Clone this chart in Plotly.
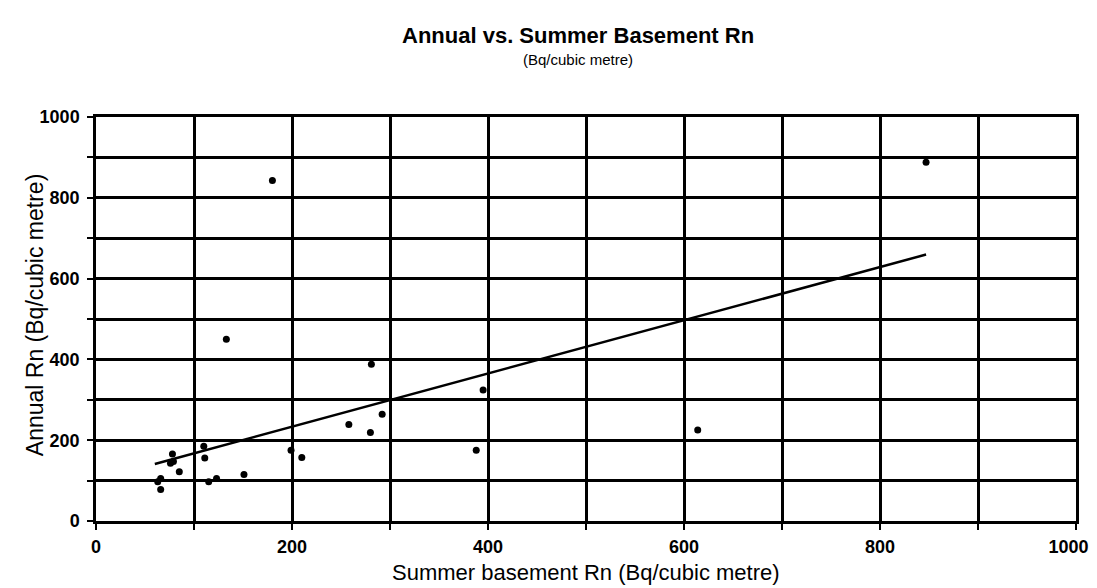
import numpy as np
import plotly.graph_objects as go

# Summer basement Rn (x) vs Annual Rn (y), Bq/cubic metre
summer = [63, 66, 66, 76, 79, 78, 85, 110, 111, 115, 123, 133, 151, 180,
          199, 210, 258, 281, 280, 292, 388, 395, 614, 847]
annual = [97, 105, 78, 143, 147, 166, 122, 185, 156, 97, 105, 450, 115, 843,
          175, 157, 239, 388, 219, 264, 175, 324, 225, 888]

x_ticks = [0, 200, 400, 600, 800, 1000]
y_ticks = [0, 200, 400, 600, 800, 1000]

title_text = "Annual vs. Summer Basement Rn"
subtitle_text = "(Bq/cubic metre)"
x_title = "Summer basement Rn (Bq/cubic metre)"
y_title = "Annual Rn (Bq/cubic metre)"

# Linear trendline (least squares) through the data
slope, intercept = np.polyfit(summer, annual, 1)
trend_x = [min(summer) - 3, max(summer)]
trend_y = [intercept + slope * v for v in trend_x]

fig = go.Figure()
fig.add_trace(go.Scatter(x=trend_x, y=trend_y, mode="lines",
                         line=dict(color="black", width=2.5),
                         showlegend=False, hoverinfo="skip"))
fig.add_trace(go.Scatter(x=summer, y=annual, mode="markers",
                         marker=dict(color="black", size=7, symbol="circle"),
                         showlegend=False))

tickfont = dict(family="Liberation Sans", size=18, color="black", weight="bold")
axis_common = dict(
    range=[0, 1000], tickmode="array",
    showgrid=True, gridcolor="black", gridwidth=2.5,
    showline=True, linecolor="black", linewidth=2.5, mirror=True,
    ticks="outside", ticklen=6, tickwidth=2, tickcolor="black",
    zeroline=False, tickfont=tickfont, automargin=False,
    ticklabeloverflow="allow",
    minor=dict(dtick=100, tick0=0, showgrid=True, gridcolor="black", gridwidth=2.5,
               ticks="outside", ticklen=6, tickwidth=2, tickcolor="black"),
)

# last x label is nudged left (as the original does) so it stays inside the page
x_ticktext = [str(v) for v in x_ticks]
x_ticktext[-1] = x_ticktext[-1] + "&nbsp;" * 3

fig.update_xaxes(**axis_common, tickvals=x_ticks,
                 ticktext=x_ticktext, ticklabelstandoff=2)
fig.update_yaxes(**axis_common, tickvals=y_ticks,
                 ticktext=[str(v) for v in y_ticks], ticklabelstandoff=4)

annos = [
    dict(text="<b>" + title_text + "</b>", x=0.492, y=1.2015,
         font=dict(family="Liberation Sans", size=22, color="black")),
    dict(text=subtitle_text, x=0.492, y=1.143,
         font=dict(family="Liberation Sans", size=15, color="black")),
    dict(text=x_title, x=0.5, y=-0.128,
         font=dict(family="Liberation Sans", size=22, color="black")),
    dict(text=y_title, x=-0.062, y=0.51, textangle=-90,
         font=dict(family="Liberation Sans", size=23, color="black")),
]
for a in annos:
    fig.add_annotation(xref="paper", yref="paper", showarrow=False,
                       xanchor="center", yanchor="middle", **a)

# The page body has an 8px margin, so the figure is sized/offset to compensate
fig.update_layout(
    width=1089, height=580,
    margin=dict(l=88, r=21, t=108.5, b=67, autoexpand=False),
    paper_bgcolor="white", plot_bgcolor="white",
    font=dict(family="Liberation Sans", color="black"),
)

fig.write_html("out.html")
